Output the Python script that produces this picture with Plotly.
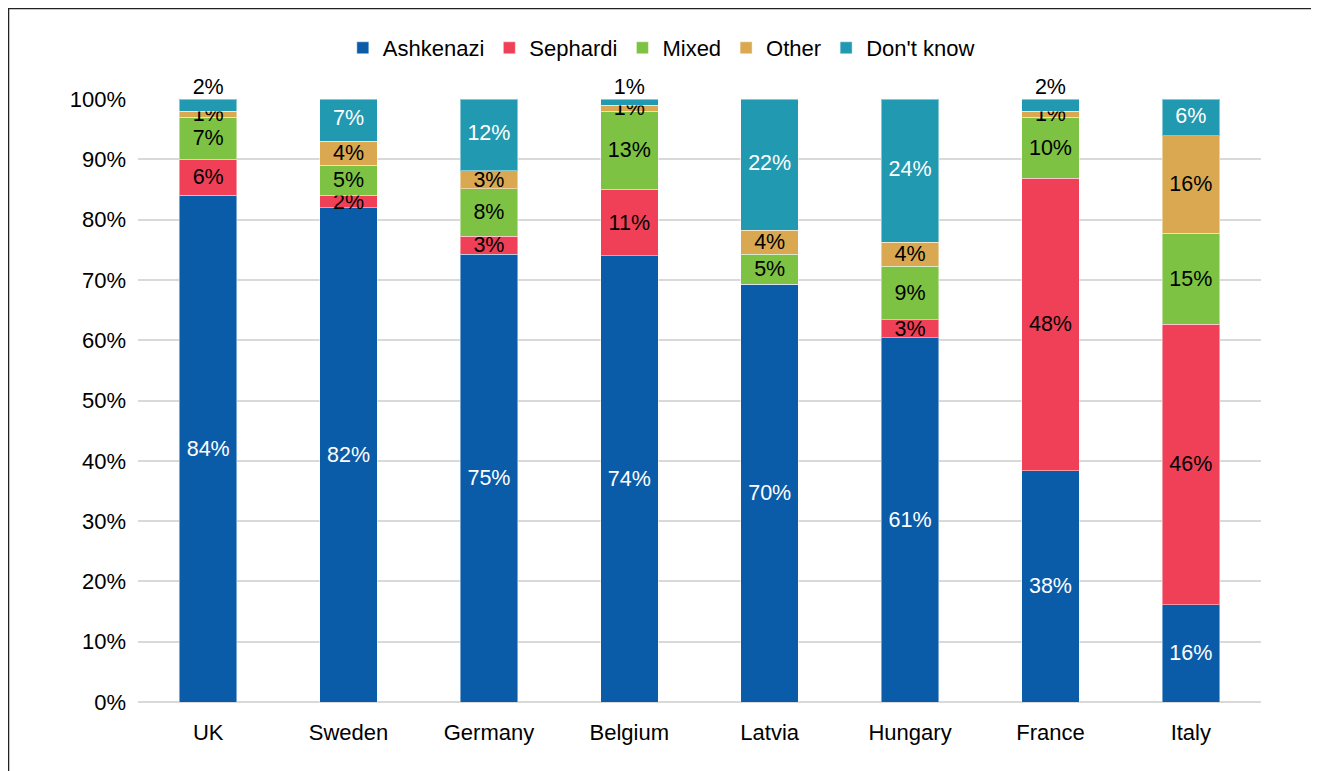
import plotly.graph_objects as go

countries = ["UK", "Sweden", "Germany", "Belgium", "Latvia", "Hungary", "France", "Italy"]
ashkenazi = [84, 82, 75, 74, 70, 61, 38, 16]
sephardi = [6, 2, 3, 11, 0, 3, 48, 46]
mixed = [7, 5, 8, 13, 5, 9, 10, 15]
other = [1, 4, 3, 1, 4, 4, 1, 16]
dont_know = [2, 7, 12, 1, 22, 24, 2, 6]
y_ticks = [0, 10, 20, 30, 40, 50, 60, 70, 80, 90, 100]

series = [
    ("Ashkenazi", ashkenazi, "#0a5ca8", "white"),
    ("Sephardi", sephardi, "#ef4057", "black"),
    ("Mixed", mixed, "#7dc242", "black"),
    ("Other", other, "#d9a851", "black"),
    ("Don't know", dont_know, "#2199b0", "white"),
]

FONT = "Liberation Sans, Arial, sans-serif"
LBL = 21.5
fig = go.Figure()
for name, vals, color, tcol in series:
    is_dk = name == "Don't know"
    texts = [f"{v}%" if v > 0 else "" for v in vals]
    fig.add_trace(go.Bar(
        name=name, x=countries, y=vals,
        text=None if is_dk else texts,
        texttemplate=None if is_dk else "%{text}",
        textposition="none" if is_dk else "inside",
        insidetextanchor="middle", textangle=0, constraintext="none",
        insidetextfont=dict(color=tcol, size=LBL, family=FONT),
        marker=dict(color=color, line=dict(color="rgba(255,255,255,0.45)", width=1)),
        cliponaxis=False, hoverinfo="skip",
    ))

# "Don't know" labels: placed at the middle of the (normalised) top segment,
# or above the bar when the segment is too thin
totals = [a + s + m + o + d for a, s, m, o, d in zip(ashkenazi, sephardi, mixed, other, dont_know)]
dk_in_x, dk_in_y, dk_in_t, dk_out_x, dk_out_y, dk_out_t = [], [], [], [], [], []
for c, d, t in zip(countries, dont_know, totals):
    if d <= 2:
        dk_out_x.append(c); dk_out_y.append(100); dk_out_t.append(f"{d}%")
    else:
        bottom = (t - d) / t * 100
        dk_in_x.append(c); dk_in_y.append((bottom + 100) / 2); dk_in_t.append(f"{d}%")

fig.add_trace(go.Scatter(x=dk_in_x, y=dk_in_y, text=dk_in_t, mode="text",
                         textposition="middle center", showlegend=False, hoverinfo="skip",
                         textfont=dict(color="white", size=LBL, family=FONT), cliponaxis=False))
fig.add_trace(go.Scatter(x=dk_out_x, y=dk_out_y, text=dk_out_t, mode="text",
                         textposition="top center", showlegend=False, hoverinfo="skip",
                         textfont=dict(color="black", size=LBL, family=FONT), cliponaxis=False))

# plot area in figure pixels: x 130..1253, y 91..694
fig.update_layout(
    barmode="stack", barnorm="percent", bargap=0.59,
    width=1319, height=771,
    margin=dict(l=130, r=66, t=91, b=77),
    paper_bgcolor="white", plot_bgcolor="white",
    font=dict(family=FONT, size=22, color="black"),
    legend=dict(orientation="h", x=0.466, xanchor="center", y=1.0846, yanchor="middle",
                font=dict(size=22), itemwidth=30, traceorder="normal"),
    showlegend=True,
    xaxis=dict(showline=False, ticks="", tickfont=dict(size=22), ticklabelstandoff=15),
    yaxis=dict(range=[0, 100], tickvals=y_ticks, ticktext=[f"{t}%" for t in y_ticks],
               showgrid=True, gridcolor="#d9d9d9", gridwidth=2, zeroline=True,
               zerolinecolor="#d9d9d9", zerolinewidth=2, tickfont=dict(size=22),
               ticklabelstandoff=11),
    shapes=[dict(type="rect", xref="paper", yref="paper",
                 x0=-0.1153, x1=1.0472, y0=-0.143, y1=1.150,
                 line=dict(color="#222222", width=1.5), layer="below")],
)

fig.write_html("out.html")
